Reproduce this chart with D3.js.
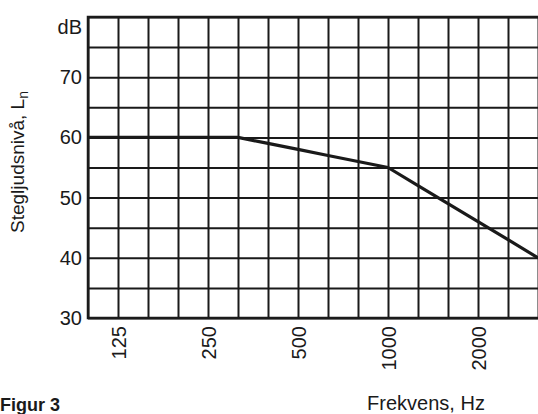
<!DOCTYPE html>
<html>
<head>
<meta charset="utf-8">
<script src="https://cdn.jsdelivr.net/npm/d3@7"></script>
<style>
  html, body { margin: 0; padding: 0; background: #fff; }
  svg { display: block; }
  text { font-family: "Liberation Sans", Arial, Helvetica, sans-serif; fill: #1a1a1a; }
</style>
</head>
<body>
<svg id="chart" width="538" height="414"></svg>
<script>
// Third-octave band centre frequencies (Hz)
const frequencies = [100, 125, 160, 200, 250, 315, 400, 500, 630, 800, 1000, 1250, 1600, 2000, 2500, 3150];
// Impact sound level reference curve, dB
const levels = [60, 60, 60, 60, 60, 60, 59, 58, 57, 56, 55, 52, 49, 46, 43, 40];
// Axis tick labels
const xTickLabels = [125, 250, 500, 1000, 2000];
const yGridValues = [30, 35, 40, 45, 50, 55, 60, 65, 70, 75, 80];
const yTickLabels = [30, 40, 50, 60, 70];

const svg = d3.select("#chart");
const mLeft = 88, mRight = 538, mTop = 17, mBottom = 318;
const ink = "#1a1a1a";

const x = d3.scalePoint().domain(frequencies).range([mLeft, mRight]);
const y = d3.scaleLinear().domain([30, 80]).range([mBottom, mTop]);

// Horizontal grid + y labels
const yAxis = d3.axisLeft(y)
  .tickValues(yGridValues)
  .tickSize(-(mRight - mLeft))
  .tickPadding(6)
  .tickFormat(d => yTickLabels.includes(d) ? d : "");
const gy = svg.append("g").attr("transform", `translate(${mLeft},0)`).call(yAxis);
gy.select(".domain").remove();
gy.selectAll(".tick line").attr("stroke", ink).attr("stroke-width", 2);
gy.selectAll(".tick text").attr("font-size", 20).attr("fill", ink);

// Vertical grid + x labels
const xAxis = d3.axisBottom(x)
  .tickValues(frequencies)
  .tickSize(-(mBottom - mTop))
  .tickFormat(d => xTickLabels.includes(d) ? d : "");
const gx = svg.append("g").attr("transform", `translate(0,${mBottom})`).call(xAxis);
gx.select(".domain").remove();
gx.selectAll(".tick line").attr("stroke", ink).attr("stroke-width", 2);
gx.selectAll(".tick text")
  .attr("font-size", 20)
  .attr("fill", ink)
  .attr("text-anchor", "end")
  .attr("dy", null)
  .attr("y", 0)
  .attr("transform", "translate(7,8) rotate(-90)");

// Border (left, top, bottom)
svg.append("path")
  .attr("d", `M${mRight},${mTop}H${mLeft}V${mBottom}H${mRight}`)
  .attr("fill", "none").attr("stroke", ink).attr("stroke-width", 2.5);

// Unit label
svg.append("text").attr("x", mLeft - 6).attr("y", y(80) + 17)
  .attr("text-anchor", "end").attr("font-size", 20).text("dB");

// Curve
const line = d3.line().x((d, i) => x(frequencies[i])).y(d => y(d));
svg.append("path").datum(levels)
  .attr("d", line).attr("fill", "none")
  .attr("stroke", ink).attr("stroke-width", 3.2).attr("stroke-linejoin", "round");

// Y axis title
const yt = svg.append("text")
  .attr("transform", `translate(24,${162}) rotate(-90)`)
  .attr("text-anchor", "middle").attr("font-size", 19);
yt.append("tspan").text("Stegljudsnivå, L");
yt.append("tspan").attr("font-size", 14).attr("dy", 4).text("n");

// X axis title
svg.append("text").attr("x", 426).attr("y", 410)
  .attr("text-anchor", "middle").attr("font-size", 20).text("Frekvens, Hz");

// Figure caption
svg.append("text").attr("x", 0).attr("y", 411)
  .attr("font-size", 18).attr("font-weight", "bold").text("Figur 3");
</script>
</body>
</html>
